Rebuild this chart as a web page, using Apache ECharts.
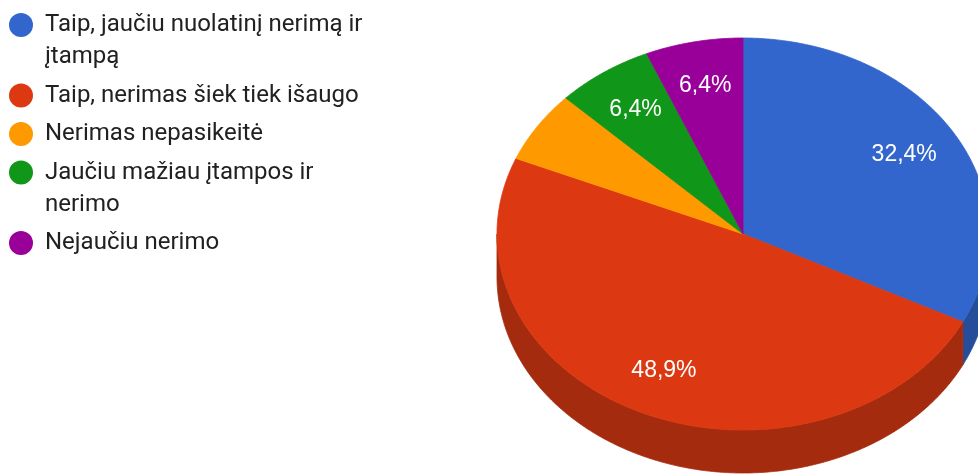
<!DOCTYPE html>
<html>
<head>
<meta charset="utf-8">
<script src="https://cdn.jsdelivr.net/npm/echarts@6/dist/echarts.min.js"></script>
<style>
  html, body { margin: 0; padding: 0; background: #ffffff; }
  #chart { width: 978px; height: 475px; }
</style>
</head>
<body>
<div id="chart"></div>
<script>
// Survey answers and their shares (percent)
const categories = [
  'Taip, jaučiu nuolatinį nerimą ir įtampą',
  'Taip, nerimas šiek tiek išaugo',
  'Nerimas nepasikeitė',
  'Jaučiu mažiau įtampos ir nerimo',
  'Nejaučiu nerimo'
];
const shares = [32.4, 48.9, 5.9, 6.4, 6.4];
const colors = ['#3366cc', '#dc3912', '#ff9900', '#109618', '#990099'];

const total = shares.reduce((a, b) => a + b, 0);
const offsets = shares.map((_, i) => shares.slice(0, i).reduce((a, b) => a + b, 0));

// Tilted pie geometry: elliptical top face plus an extruded rim
const PIE = { cx: 743, cy: 234, rx: 246, ry: 196, depth: 43, labelR: 0.77, minLabel: 6 };
const LABEL_FONT = '23px "Liberation Sans", Arial, sans-serif';
const LEGEND_FONT_SIZE = 24;
const LEGEND_FAMILY = 'Roboto';
const LEGEND_WRAP = 330;
const LINE_H = 32;

function shade(hex, k) {
  const n = parseInt(hex.slice(1), 16);
  const r = Math.round(((n >> 16) & 255) * k);
  const g = Math.round(((n >> 8) & 255) * k);
  const b = Math.round((n & 255) * k);
  return 'rgb(' + r + ',' + g + ',' + b + ')';
}

function point(a, dy) {
  return [PIE.cx + PIE.rx * Math.sin(a), PIE.cy - PIE.ry * Math.cos(a) + (dy || 0)];
}

function arc(a0, a1, dy) {
  const n = Math.max(2, Math.ceil((a1 - a0) / (Math.PI / 360)));
  const pts = [];
  for (let k = 0; k <= n; k++) pts.push(point(a0 + (a1 - a0) * k / n, dy));
  return pts;
}

function percentText(v) {
  return v.toFixed(1).replace('.', ',') + '%';
}

function renderSlice(params, api) {
  const value = api.value(0);
  const before = api.value(1);
  const a0 = before / total * 2 * Math.PI;
  const a1 = (before + value) / total * 2 * Math.PI;
  const color = api.visual('color');
  const dark = shade(color, 0.75);
  const children = [];

  // visible rim: only the front half of the ellipse
  const s0 = Math.max(a0, Math.PI / 2);
  const s1 = Math.min(a1, 3 * Math.PI / 2);
  if (s1 > s0) {
    const upper = arc(s0, s1, 0);
    const lower = arc(s0, s1, PIE.depth).reverse();
    children.push({
      type: 'polygon',
      shape: { points: upper.concat(lower) },
      style: { fill: dark, stroke: dark, lineWidth: 0.8 }
    });
  }

  // top face
  children.push({
    type: 'polygon',
    shape: { points: [[PIE.cx, PIE.cy]].concat(arc(a0, a1, 0)) },
    style: { fill: color, stroke: color, lineWidth: 0.8 }
  });

  if (value >= PIE.minLabel) {
    const mid = (a0 + a1) / 2;
    children.push({
      type: 'text',
      style: {
        text: percentText(value / total * 100),
        x: PIE.cx + PIE.rx * PIE.labelR * Math.sin(mid),
        y: PIE.cy - PIE.ry * PIE.labelR * Math.cos(mid),
        fill: '#ffffff',
        font: LABEL_FONT,
        align: 'center',
        verticalAlign: 'middle'
      }
    });
  }
  return { type: 'group', children: children };
}

// greedy word wrap for legend names
const measureCtx = document.createElement('canvas').getContext('2d');
measureCtx.font = LEGEND_FONT_SIZE + 'px ' + LEGEND_FAMILY;
function wrapLines(name) {
  const words = name.split(' ');
  const lines = [];
  let cur = '';
  words.forEach(w => {
    const test = cur ? cur + ' ' + w : w;
    if (cur && measureCtx.measureText(test).width > LEGEND_WRAP) {
      lines.push(cur);
      cur = w;
    } else {
      cur = test;
    }
  });
  lines.push(cur);
  return lines;
}

const chart = echarts.init(document.getElementById('chart'), null, { renderer: 'canvas' });

chart.setOption({
  animation: false,
  backgroundColor: '#ffffff',
  legend: {
    orient: 'vertical',
    left: 9,
    top: 13,
    padding: 0,
    icon: 'circle',
    itemWidth: 24,
    itemHeight: 24,
    itemGap: 14.5,
    selectedMode: false,
    formatter: name => '{w|' + wrapLines(name).join('\n') + '}',
    textStyle: {
      fontFamily: LEGEND_FAMILY,
      fontSize: LEGEND_FONT_SIZE,
      color: '#212121',
      rich: {
        w: {
          fontFamily: LEGEND_FAMILY,
          fontSize: LEGEND_FONT_SIZE,
          color: '#212121',
          lineHeight: LINE_H
        }
      }
    },
    // keep the dot level with the first line of a wrapped entry
    data: categories.map(name => ({
      name: name,
      textStyle: { padding: [(wrapLines(name).length - 1) * LINE_H, 0, 0, 7] }
    }))
  },
  series: categories.map((name, i) => ({
    type: 'custom',
    name: name,
    coordinateSystem: 'none',
    silent: true,
    itemStyle: { color: colors[i] },
    data: [[shares[i], offsets[i]]],
    renderItem: renderSlice
  }))
});
</script>
</body>
</html>
